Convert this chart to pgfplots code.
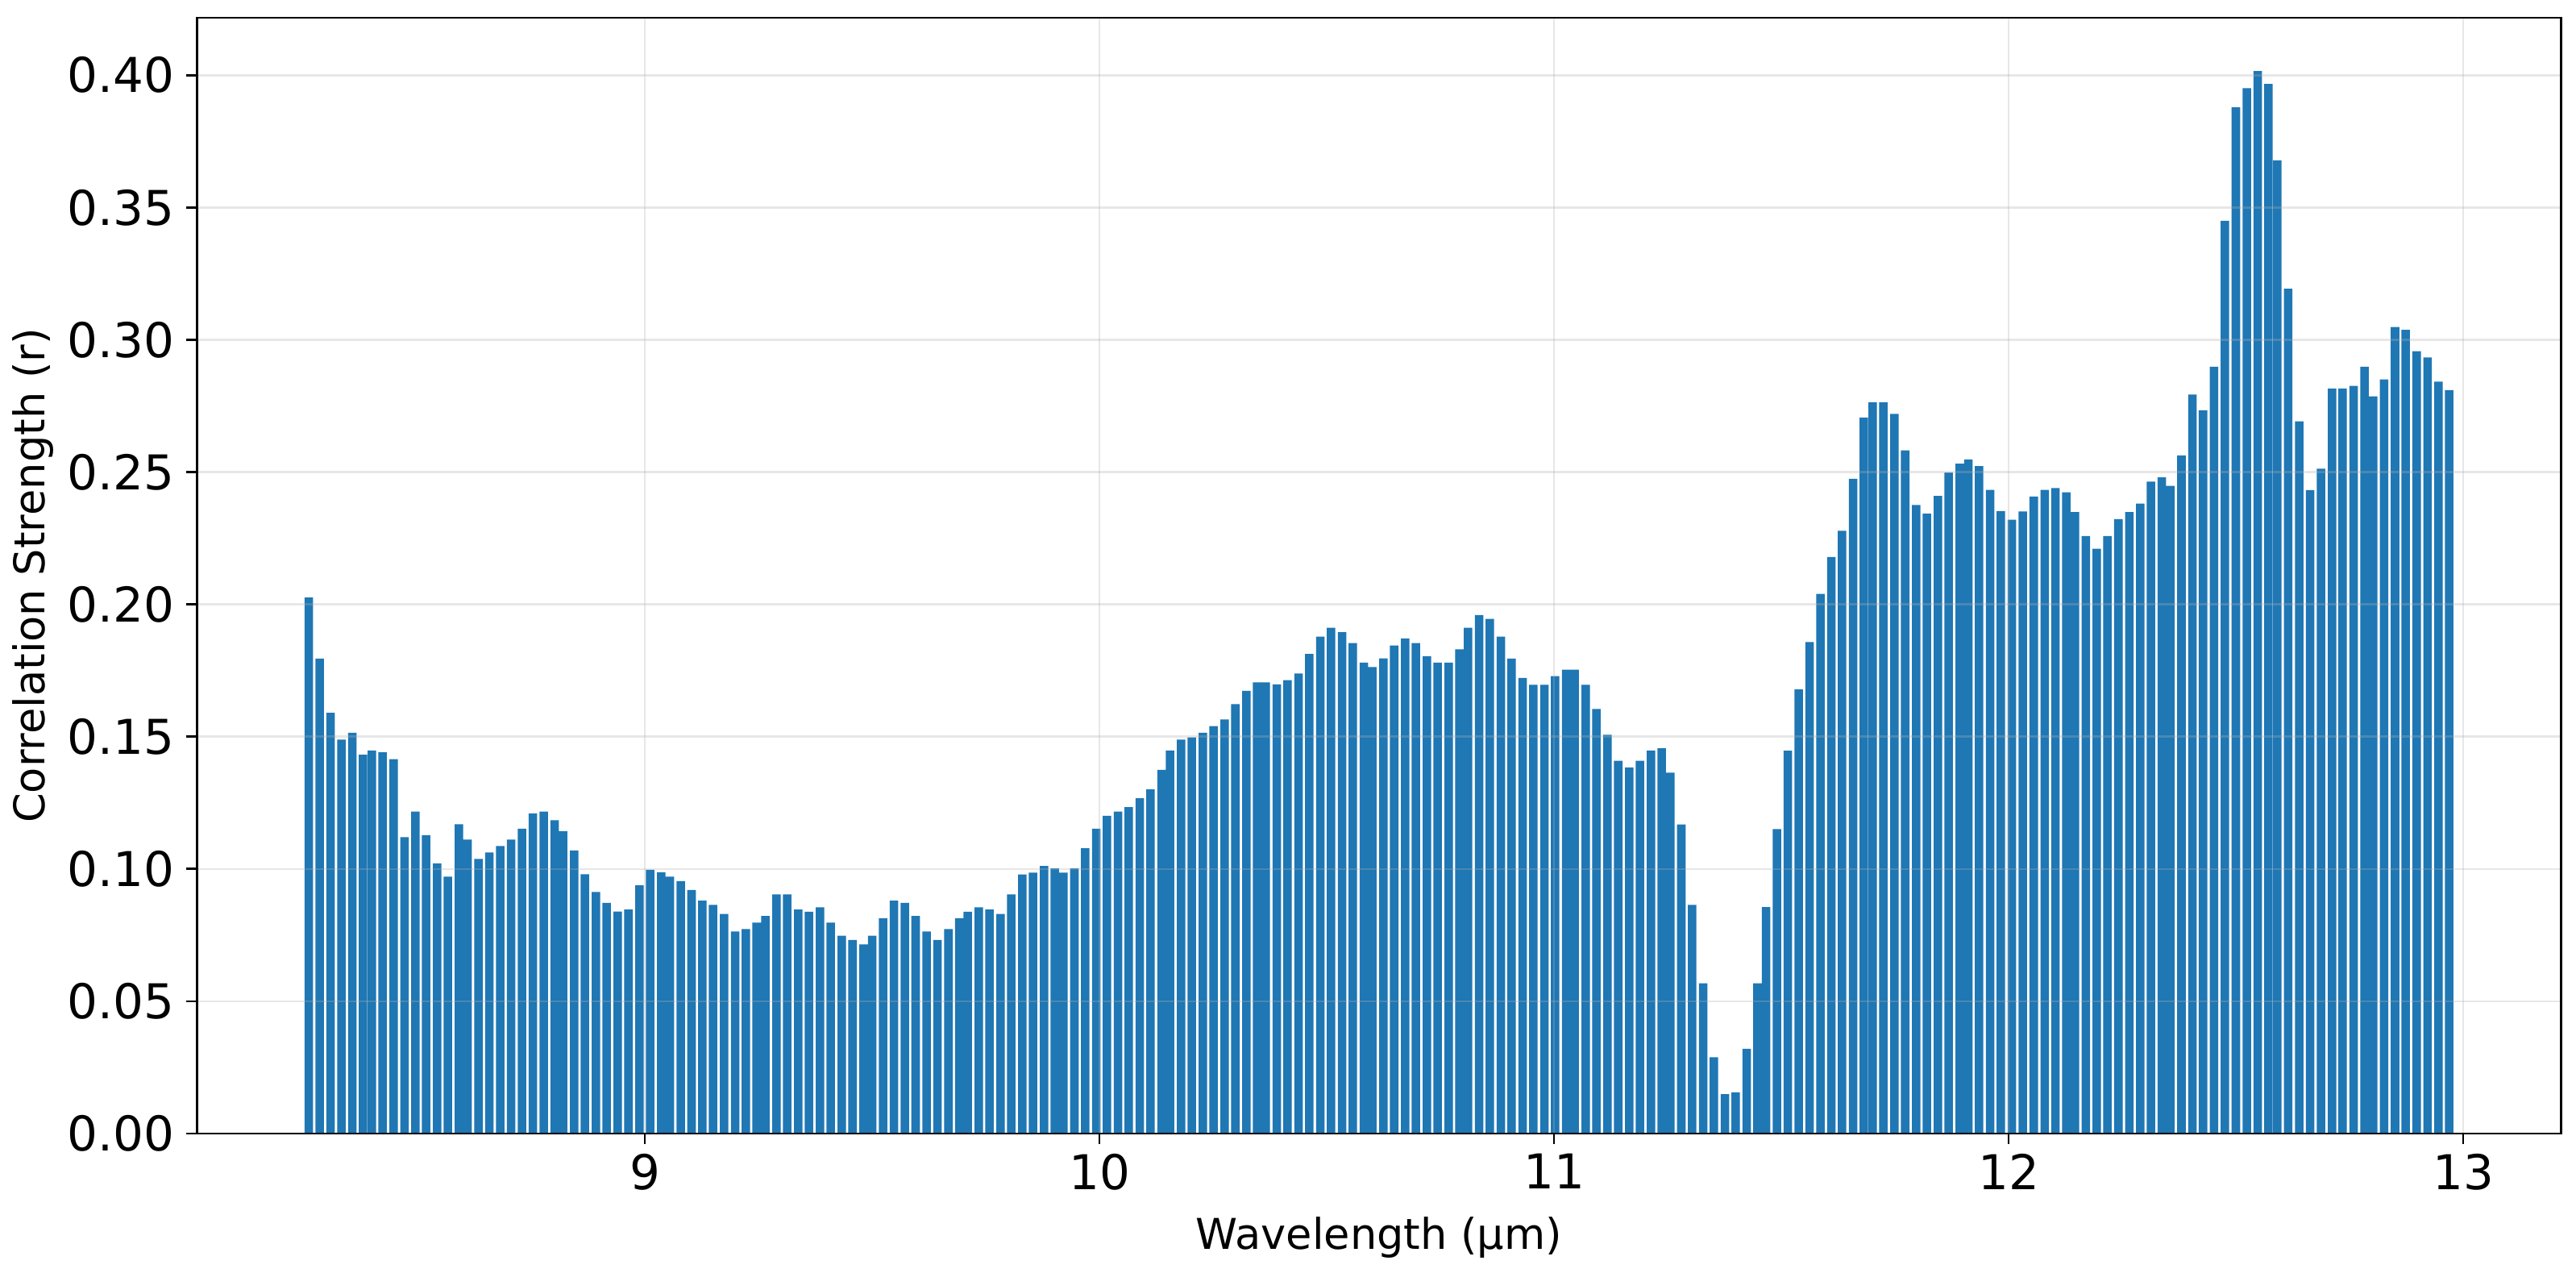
\documentclass[border=0pt]{standalone}
\usepackage{pgfplots}
\pgfplotsset{compat=1.18}
\usepackage{pgfplotstable}
\usepackage{fontspec}
\setmainfont{DejaVu Sans}

\definecolor{barblue}{HTML}{1F77B4}
\definecolor{gridgray}{HTML}{B0B0B0}

% wavelength (um), correlation strength (r)
\pgfplotstableread{
wl r
8.2609 0.2026
8.2849 0.1795
8.3085 0.1590
8.3327 0.1489
8.3564 0.1515
8.3800 0.1432
8.3995 0.1448
8.4232 0.1441
8.4474 0.1415
8.4713 0.1120
8.4953 0.1217
8.5189 0.1128
8.5431 0.1021
8.5668 0.0971
8.5910 0.1169
8.6099 0.1111
8.6342 0.1038
8.6578 0.1062
8.6820 0.1087
8.7057 0.1111
8.7299 0.1152
8.7536 0.1210
8.7778 0.1217
8.8014 0.1184
8.8203 0.1143
8.8446 0.1070
8.8682 0.0980
8.8924 0.0913
8.9161 0.0872
8.9403 0.0839
8.9640 0.0847
8.9882 0.0938
9.0118 0.0997
9.0361 0.0988
9.0550 0.0971
9.0792 0.0954
9.1028 0.0921
9.1265 0.0880
9.1501 0.0864
9.1744 0.0830
9.1986 0.0764
9.2222 0.0773
9.2459 0.0797
9.2654 0.0822
9.2896 0.0904
9.3132 0.0904
9.3375 0.0847
9.3611 0.0838
9.3853 0.0855
9.4090 0.0797
9.4332 0.0748
9.4569 0.0732
9.4811 0.0715
9.5000 0.0748
9.5242 0.0814
9.5479 0.0880
9.5721 0.0872
9.5957 0.0822
9.6200 0.0764
9.6436 0.0732
9.6679 0.0773
9.6915 0.0814
9.7104 0.0838
9.7346 0.0855
9.7583 0.0847
9.7825 0.0830
9.8061 0.0904
9.8304 0.0979
9.8540 0.0986
9.8782 0.1011
9.9019 0.1002
9.9208 0.0986
9.9450 0.1002
9.9687 0.1078
9.9929 0.1152
10.0166 0.1201
10.0408 0.1217
10.0644 0.1234
10.0887 0.1267
10.1123 0.1301
10.1365 0.1375
10.1554 0.1448
10.1797 0.1489
10.2033 0.1497
10.2276 0.1515
10.2512 0.1540
10.2754 0.1565
10.2991 0.1623
10.3233 0.1673
10.3469 0.1705
10.3658 0.1705
10.3901 0.1698
10.4137 0.1714
10.4380 0.1739
10.4616 0.1813
10.4858 0.1878
10.5095 0.1912
10.5337 0.1895
10.5573 0.1854
10.5816 0.1780
10.6005 0.1763
10.6247 0.1796
10.6484 0.1845
10.6726 0.1871
10.6962 0.1854
10.7205 0.1804
10.7441 0.1780
10.7683 0.1780
10.7920 0.1830
10.8109 0.1912
10.8351 0.1960
10.8588 0.1945
10.8830 0.1878
10.9066 0.1795
10.9309 0.1722
10.9545 0.1696
10.9787 0.1696
11.0024 0.1729
11.0266 0.1753
11.0455 0.1753
11.0697 0.1696
11.0934 0.1605
11.1176 0.1507
11.1413 0.1409
11.1655 0.1384
11.1891 0.1409
11.2134 0.1448
11.2370 0.1456
11.2559 0.1364
11.2801 0.1168
11.3038 0.0864
11.3280 0.0568
11.3517 0.0288
11.3759 0.0149
11.3995 0.0156
11.4238 0.0320
11.4474 0.0568
11.4663 0.0856
11.4905 0.1151
11.5142 0.1447
11.5384 0.1679
11.5621 0.1858
11.5863 0.2040
11.6099 0.2179
11.6336 0.2278
11.6578 0.2475
11.6814 0.2706
11.7009 0.2764
11.7246 0.2764
11.7488 0.2720
11.7725 0.2582
11.7967 0.2376
11.8203 0.2343
11.8446 0.2410
11.8682 0.2498
11.8924 0.2532
11.9114 0.2548
11.9350 0.2523
11.9592 0.2433
11.9829 0.2353
12.0071 0.2320
12.0310 0.2351
12.0553 0.2408
12.0794 0.2433
12.1028 0.2440
12.1269 0.2424
12.1459 0.2349
12.1700 0.2258
12.1940 0.2210
12.2175 0.2258
12.2415 0.2322
12.2656 0.2349
12.2896 0.2381
12.3131 0.2464
12.3371 0.2480
12.3561 0.2448
12.3802 0.2563
12.4043 0.2793
12.4277 0.2734
12.4518 0.2898
12.4758 0.3450
12.4999 0.3879
12.5239 0.3951
12.5480 0.4016
12.5714 0.3967
12.5911 0.3678
12.6151 0.3193
12.6392 0.2692
12.6632 0.2432
12.6873 0.2513
12.7114 0.2816
12.7348 0.2816
12.7589 0.2826
12.7829 0.2898
12.8019 0.2786
12.8260 0.2850
12.8501 0.3048
12.8735 0.3038
12.8975 0.2957
12.9216 0.2933
12.9457 0.2842
12.9691 0.2810
}\corrdata

\begin{document}
\begin{tikzpicture}
\begin{axis}[
  scale only axis,
  width=1055.8bp, height=498.2bp,
  xmin=8.015, xmax=13.215,
  ymin=0, ymax=0.4217,
  xtick={9,10,11,12,13},
  ytick={0,0.05,0.10,0.15,0.20,0.25,0.30,0.35,0.40},
  /pgf/number format/assume math mode=true,
  xtick pos=bottom, ytick pos=left,
  tick align=outside,
  major tick length=4.7bp,
  tick style={line width=1bp, black},
  axis line style={line width=1bp},
  grid=major,
  grid style={gridgray, opacity=0.3, line width=0.9bp},
  axis on top,
  tick label style={font=\fontsize{21.5}{25}\selectfont, inner sep=0pt},
  xticklabel style={anchor=north, yshift=-4.3bp},
  yticklabel style={anchor=east, xshift=-5.4bp,
    /pgf/number format/fixed,
    /pgf/number format/fixed zerofill,
    /pgf/number format/precision=2},
  label style={font=\fontsize{19}{23}\selectfont},
  xlabel={Wavelength (µm)},
  ylabel={Correlation Strength (r)},
  xlabel style={at={(axis description cs:0.5,-0.10397)}, anchor=base},
  ylabel style={at={(axis description cs:-0.0644,0.5)}, anchor=base},
]
\coordinate (O) at (rel axis cs:0,0);
\addplot[ybar, bar width=0.0187, fill=barblue, draw=none] table[x=wl, y=r] {\corrdata};
\end{axis}
\pgfresetboundingbox
\path (O) ++(-88.02bp,-60.48bp) rectangle ++(1150.56bp,566.64bp);
\end{tikzpicture}
\end{document}
